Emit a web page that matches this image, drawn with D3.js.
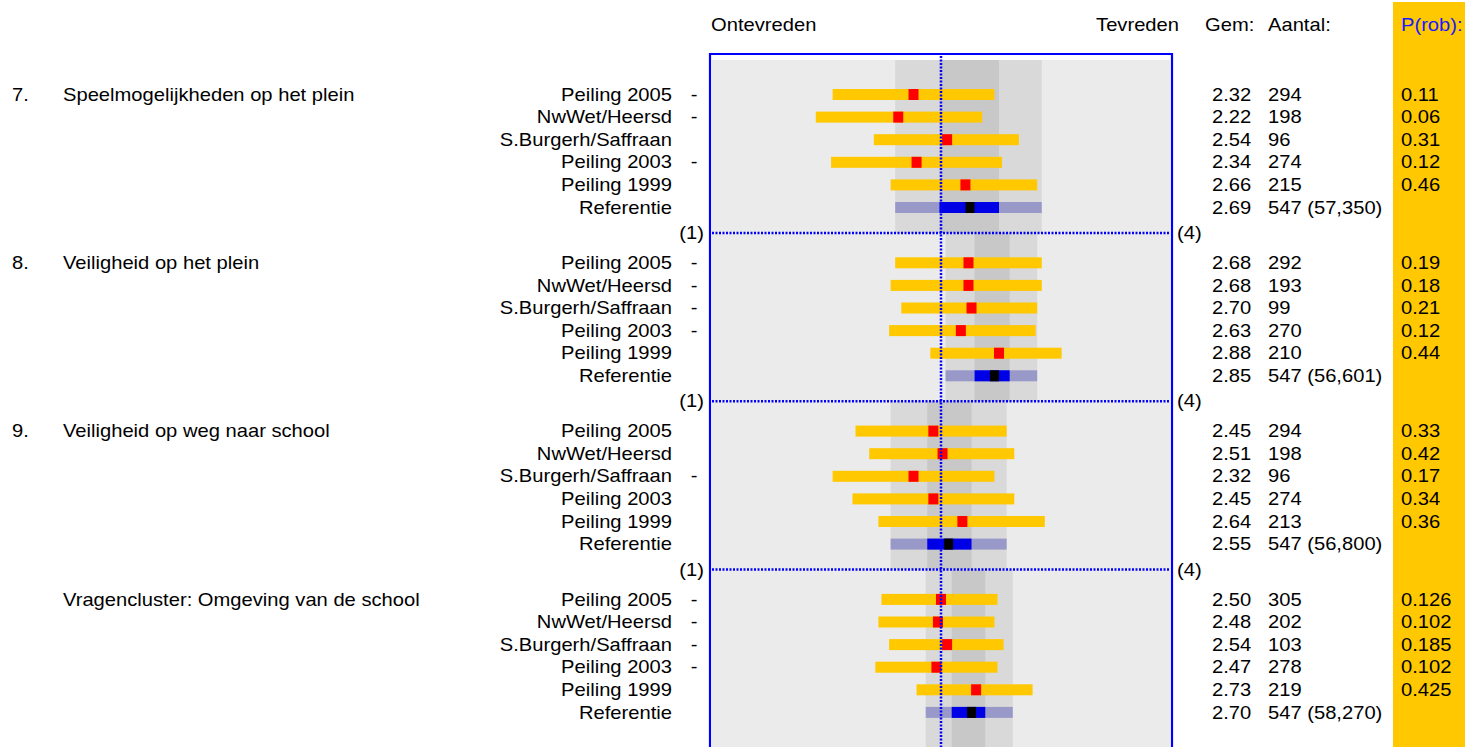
<!DOCTYPE html>
<html>
<head>
<meta charset="utf-8">
<script src="https://cdn.jsdelivr.net/npm/d3@7"></script>
<style>
  body { margin: 0; background: #fff; }
  text { font-family: "Liberation Sans", Arial, sans-serif; font-size: 18px; fill: #000; }
</style>
</head>
<body>
<div id="chart"></div>
<script>
// Data
const nummers = ["7.", "8.", "9.", ""];
const vragen = ["Speelmogelijkheden op het plein", "Veiligheid op het plein",
  "Veiligheid op weg naar school", "Vragencluster: Omgeving van de school"];
const bronnen = ["Peiling 2005", "NwWet/Heersd", "S.Burgerh/Saffraan", "Peiling 2003", "Peiling 1999", "Referentie"];

const gem = [
  [2.32, 2.22, 2.54, 2.34, 2.66, 2.69],
  [2.68, 2.68, 2.70, 2.63, 2.88, 2.85],
  [2.45, 2.51, 2.32, 2.45, 2.64, 2.55],
  [2.50, 2.48, 2.54, 2.47, 2.73, 2.70]
];
const gemLabels = [
  ["2.32", "2.22", "2.54", "2.34", "2.66", "2.69"],
  ["2.68", "2.68", "2.70", "2.63", "2.88", "2.85"],
  ["2.45", "2.51", "2.32", "2.45", "2.64", "2.55"],
  ["2.50", "2.48", "2.54", "2.47", "2.73", "2.70"]
];
const aantal = [
  ["294", "198", "96", "274", "215", "547 (57,350)"],
  ["292", "193", "99", "270", "210", "547 (56,601)"],
  ["294", "198", "96", "274", "213", "547 (56,800)"],
  ["305", "202", "103", "278", "219", "547 (58,270)"]
];
const prob = [
  ["0.11", "0.06", "0.31", "0.12", "0.46"],
  ["0.19", "0.18", "0.21", "0.12", "0.44"],
  ["0.33", "0.42", "0.17", "0.34", "0.36"],
  ["0.126", "0.102", "0.185", "0.102", "0.425"]
];
// significant difference marker ("-")
const verschil = [
  [1, 1, 0, 1, 0],
  [1, 1, 1, 1, 0],
  [0, 0, 1, 0, 0],
  [1, 1, 1, 1, 0]
];
// spread of each school bar (low, high)
const spreiding = [
  [[1.79, 2.85], [1.68, 2.77], [2.06, 3.01], [1.78, 2.90], [2.17, 3.13]],
  [[2.20, 3.16], [2.17, 3.16], [2.24, 3.13], [2.16, 3.12], [2.43, 3.29]],
  [[1.94, 2.93], [2.03, 2.98], [1.79, 2.85], [1.92, 2.98], [2.09, 3.18]],
  [[2.11, 2.87], [2.09, 2.85], [2.16, 2.91], [2.07, 2.87], [2.34, 3.10]]
];
// reference spread: outer and inner range
const refBuiten = [[2.20, 3.16], [2.53, 3.13], [2.17, 2.93], [2.40, 2.97]];
const refBinnen = [[2.49, 2.88], [2.72, 2.95], [2.41, 2.70], [2.57, 2.79]];
const midden = 2.5;

const W = 1465, H = 747;
const blue = "#0000ff";
const sx = 1.12; // the original font runs a bit wider than Arial

const svg = d3.select("#chart").append("svg")
  .attr("width", W).attr("height", H);

// text helper: stretched horizontally around its anchor point
function label(sel, x, y, s, anchor) {
  return sel.append("text")
    .attr("transform", `translate(${x},${y}) scale(${sx},1)`)
    .attr("text-anchor", anchor || "start")
    .attr("dominant-baseline", "central")
    .text(s);
}

// scales
const x = d3.scaleLinear().domain([1, 4]).range([712, 1170]);
const gy = d3.scaleBand().domain(d3.range(4)).range([64.7, 64.7 + 4 * 168.3]);
const ry = d3.scalePoint().domain(bronnen).range([29.8, 29.8 + 5 * 22.6]);

// yellow column behind P(rob)
svg.append("rect").attr("x", 1393).attr("y", 2).attr("width", W - 1393).attr("height", H)
  .attr("fill", "#ffc800");

// headers
label(svg, 711, 25, "Ontevreden");
label(svg, 1179, 25, "Tevreden", "end");
label(svg, 1205, 25, "Gem:");
label(svg, 1268, 25, "Aantal:");
label(svg, 1401, 25, "P(rob):").style("fill", "#1a1aff");

// plot background
svg.append("rect").attr("x", x(1)).attr("y", 60).attr("width", x(4) - x(1)).attr("height", H - 60)
  .attr("fill", "#ebebeb");

const groups = svg.selectAll(".groep").data(d3.range(4)).enter().append("g").attr("class", "groep");

// grey bands of the reference
groups.each(function(g) {
  const top = g === 0 ? 60 : gy(g);
  const bottom = g === 3 ? H : gy(g) + gy.bandwidth();
  const sel = d3.select(this);
  sel.append("rect")
    .attr("x", x(refBuiten[g][0])).attr("width", x(refBuiten[g][1]) - x(refBuiten[g][0]))
    .attr("y", top).attr("height", bottom - top).attr("fill", "#d9d9d9");
  sel.append("rect")
    .attr("x", x(refBinnen[g][0])).attr("width", x(refBinnen[g][1]) - x(refBinnen[g][0]))
    .attr("y", top).attr("height", bottom - top).attr("fill", "#c8c8c8");
});

// vertical dotted line at the middle
svg.append("line").attr("x1", x(midden)).attr("x2", x(midden)).attr("y1", 56).attr("y2", H)
  .attr("stroke", blue).attr("stroke-width", 2.5).attr("stroke-dasharray", "2,1.5");

// horizontal dotted separators with (1) and (4)
const seps = [1, 2, 3];
svg.selectAll(".sep").data(seps).enter().append("line")
  .attr("x1", x(1)).attr("x2", x(4)).attr("y1", g => gy(g)).attr("y2", g => gy(g))
  .attr("stroke", blue).attr("stroke-width", 2.5).attr("stroke-dasharray", "2,1.5");
seps.forEach(g => {
  label(svg, 704, gy(g), "(1)", "end");
  label(svg, 1177, gy(g), "(4)");
});

// frame
svg.append("path")
  .attr("d", `M${x(1) - 2},${H + 5}V54H${x(4) + 2}V${H + 5}`)
  .attr("fill", "none").attr("stroke", blue).attr("stroke-width", 2.2);

const barH = 11, sq = 10;

groups.each(function(g) {
  const sel = d3.select(this);
  const y0 = gy(g);
  const rowY = b => y0 + ry(b);

  // question number and title
  label(sel, 12, rowY(bronnen[0]), nummers[g]);
  label(sel, 63, rowY(bronnen[0]), vragen[g]);

  bronnen.forEach((b, i) => {
    label(sel, 672, rowY(b), b, "end");
    if (i < 5 && verschil[g][i]) label(sel, 694, rowY(b), "-", "middle");
    label(sel, 1212, rowY(b), gemLabels[g][i]);
    label(sel, 1268, rowY(b), aantal[g][i]);
    if (i < 5) label(sel, 1401, rowY(b), prob[g][i]);
  });

  // yellow spread bars with red mean
  const scholen = bronnen.slice(0, 5);
  sel.selectAll(".bar").data(scholen).enter().append("rect")
    .attr("x", (d, i) => x(spreiding[g][i][0]))
    .attr("width", (d, i) => x(spreiding[g][i][1]) - x(spreiding[g][i][0]))
    .attr("y", d => rowY(d) - barH / 2).attr("height", barH)
    .attr("fill", "#ffc800");
  sel.selectAll(".mean").data(scholen).enter().append("rect")
    .attr("x", (d, i) => x(gem[g][i]) - sq / 2).attr("width", sq)
    .attr("y", d => rowY(d) - barH / 2).attr("height", barH)
    .attr("fill", "#ff0000");

  // reference bar
  const ryRef = rowY("Referentie");
  sel.append("rect")
    .attr("x", x(refBuiten[g][0])).attr("width", x(refBuiten[g][1]) - x(refBuiten[g][0]))
    .attr("y", ryRef - barH / 2).attr("height", barH).attr("fill", "#9999c9");
  sel.append("rect")
    .attr("x", x(refBinnen[g][0])).attr("width", x(refBinnen[g][1]) - x(refBinnen[g][0]))
    .attr("y", ryRef - barH / 2).attr("height", barH).attr("fill", "#0000e6");
  sel.append("rect")
    .attr("x", x(gem[g][5]) - 4.5).attr("width", 9)
    .attr("y", ryRef - barH / 2).attr("height", barH).attr("fill", "#000");
});
</script>
</body>
</html>
